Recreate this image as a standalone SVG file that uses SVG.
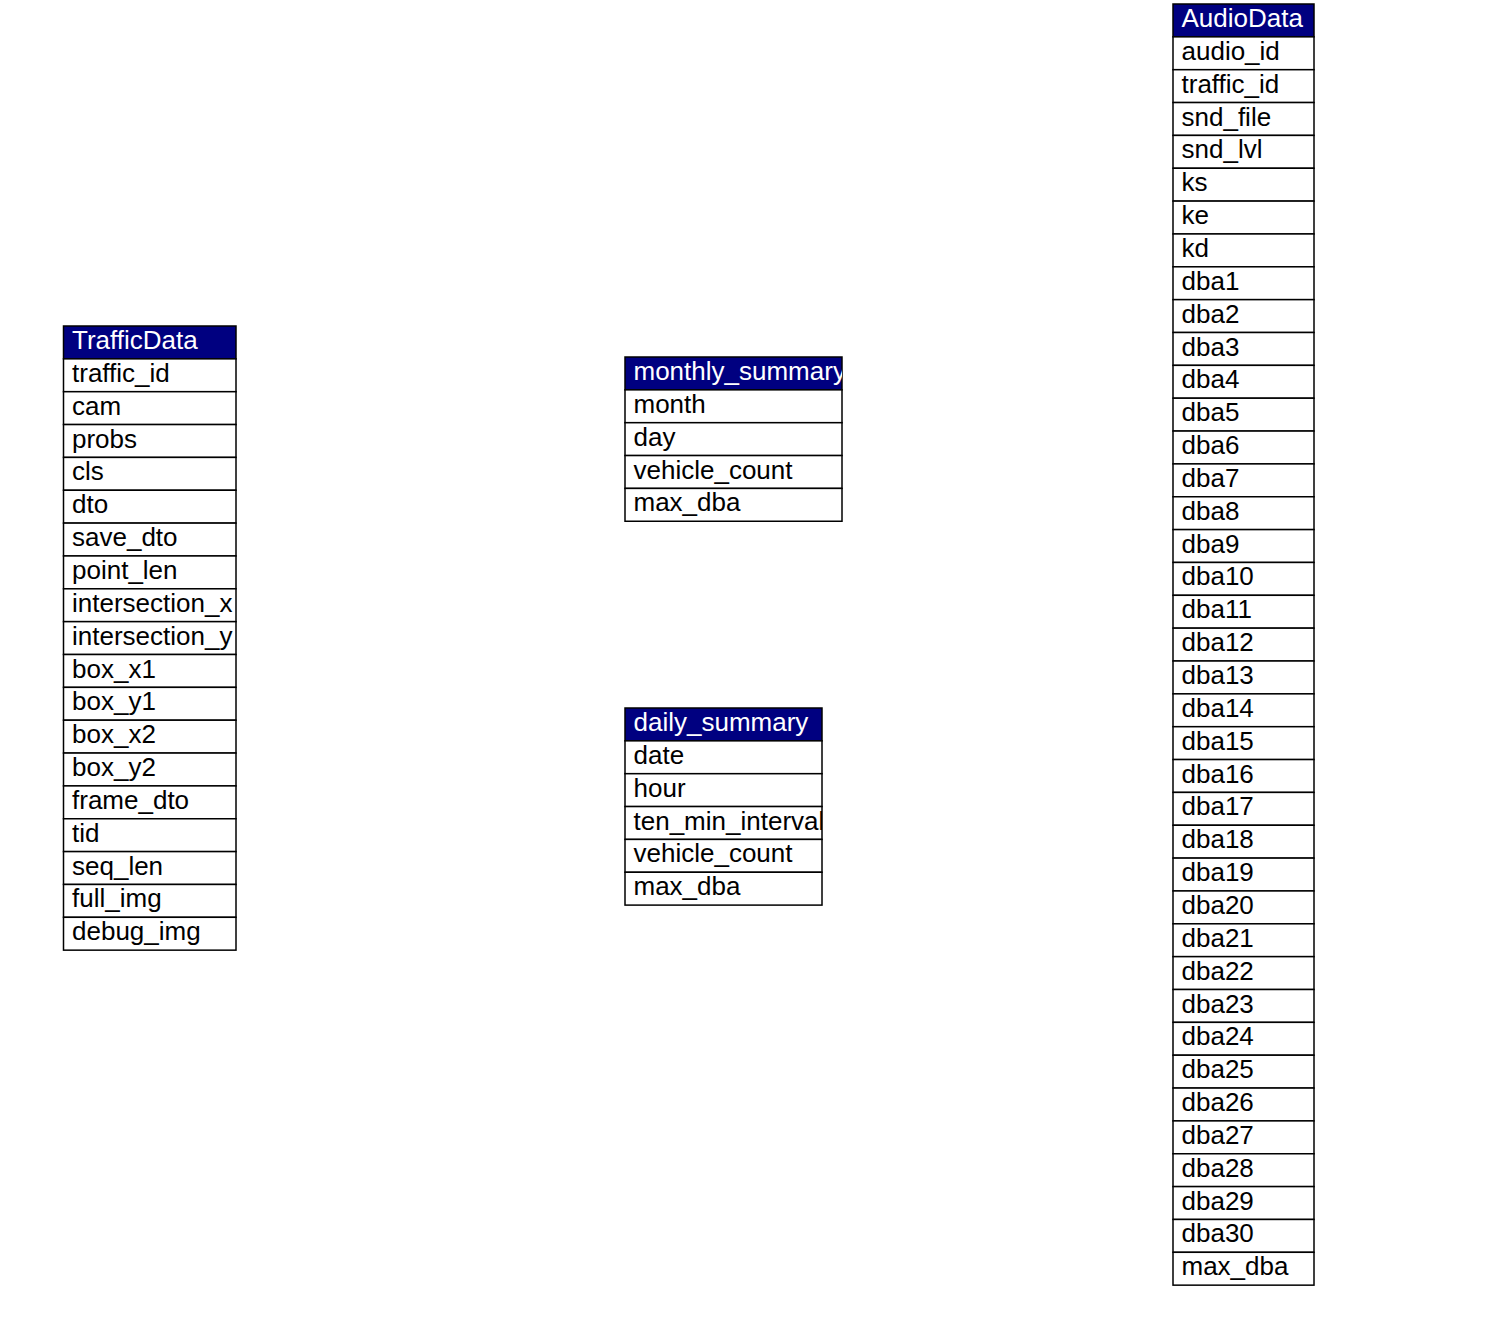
<svg xmlns="http://www.w3.org/2000/svg" width="1498" height="1332" viewBox="0 0 1498 1332">
<style>
.cell{fill:#fff;stroke:#000;stroke-width:1.5}
.head{fill:#000080;stroke:#000;stroke-width:1.5}
text{font-family:"Liberation Sans",Arial,sans-serif;font-size:26px;fill:#000}
.ht{fill:#fff}
</style>
<defs>
<clipPath id="cT"><rect x="0" y="0" width="172.5" height="624.15"/></clipPath>
<clipPath id="cM"><rect x="0" y="0" width="217" height="164.25"/></clipPath>
<clipPath id="cD"><rect x="0" y="0" width="197" height="197.1"/></clipPath>
<clipPath id="cA"><rect x="0" y="0" width="141" height="1281.15"/></clipPath>
</defs>
<rect width="1498" height="1332" fill="#fff"/>
<g id="connectors"></g>

<g id="TrafficData" transform="translate(63.5,326)">
<rect class="head" x="0" y="0" width="172.5" height="32.85"/>
<rect class="cell" x="0" y="32.85" width="172.5" height="32.85"/>
<rect class="cell" x="0" y="65.7" width="172.5" height="32.85"/>
<rect class="cell" x="0" y="98.55" width="172.5" height="32.85"/>
<rect class="cell" x="0" y="131.4" width="172.5" height="32.85"/>
<rect class="cell" x="0" y="164.25" width="172.5" height="32.85"/>
<rect class="cell" x="0" y="197.1" width="172.5" height="32.85"/>
<rect class="cell" x="0" y="229.95" width="172.5" height="32.85"/>
<rect class="cell" x="0" y="262.8" width="172.5" height="32.85"/>
<rect class="cell" x="0" y="295.65" width="172.5" height="32.85"/>
<rect class="cell" x="0" y="328.5" width="172.5" height="32.85"/>
<rect class="cell" x="0" y="361.35" width="172.5" height="32.85"/>
<rect class="cell" x="0" y="394.2" width="172.5" height="32.85"/>
<rect class="cell" x="0" y="427.05" width="172.5" height="32.85"/>
<rect class="cell" x="0" y="459.9" width="172.5" height="32.85"/>
<rect class="cell" x="0" y="492.75" width="172.5" height="32.85"/>
<rect class="cell" x="0" y="525.6" width="172.5" height="32.85"/>
<rect class="cell" x="0" y="558.45" width="172.5" height="32.85"/>
<rect class="cell" x="0" y="591.3" width="172.5" height="32.85"/>
<g clip-path="url(#cT)">
<text class="ht" x="8.5" y="23">TrafficData</text>
<text x="8.5" y="55.85">traffic_id</text>
<text x="8.5" y="88.7">cam</text>
<text x="8.5" y="121.55">probs</text>
<text x="8.5" y="154.4">cls</text>
<text x="8.5" y="187.25">dto</text>
<text x="8.5" y="220.1">save_dto</text>
<text x="8.5" y="252.95">point_len</text>
<text x="8.5" y="285.8">intersection_x</text>
<text x="8.5" y="318.65">intersection_y</text>
<text x="8.5" y="351.5">box_x1</text>
<text x="8.5" y="384.35">box_y1</text>
<text x="8.5" y="417.2">box_x2</text>
<text x="8.5" y="450.05">box_y2</text>
<text x="8.5" y="482.9">frame_dto</text>
<text x="8.5" y="515.75">tid</text>
<text x="8.5" y="548.6">seq_len</text>
<text x="8.5" y="581.45">full_img</text>
<text x="8.5" y="614.3">debug_img</text>
</g>
</g>

<g id="monthly_summary" transform="translate(625,357)">
<rect class="head" x="0" y="0" width="217" height="32.85"/>
<rect class="cell" x="0" y="32.85" width="217" height="32.85"/>
<rect class="cell" x="0" y="65.7" width="217" height="32.85"/>
<rect class="cell" x="0" y="98.55" width="217" height="32.85"/>
<rect class="cell" x="0" y="131.4" width="217" height="32.85"/>
<g clip-path="url(#cM)">
<text class="ht" x="8.5" y="23">monthly_summary</text>
<text x="8.5" y="55.85">month</text>
<text x="8.5" y="88.7">day</text>
<text x="8.5" y="121.55">vehicle_count</text>
<text x="8.5" y="154.4">max_dba</text>
</g>
</g>

<g id="daily_summary" transform="translate(625,708)">
<rect class="head" x="0" y="0" width="197" height="32.85"/>
<rect class="cell" x="0" y="32.85" width="197" height="32.85"/>
<rect class="cell" x="0" y="65.7" width="197" height="32.85"/>
<rect class="cell" x="0" y="98.55" width="197" height="32.85"/>
<rect class="cell" x="0" y="131.4" width="197" height="32.85"/>
<rect class="cell" x="0" y="164.25" width="197" height="32.85"/>
<g clip-path="url(#cD)">
<text class="ht" x="8.5" y="23">daily_summary</text>
<text x="8.5" y="55.85">date</text>
<text x="8.5" y="88.7">hour</text>
<text x="8.5" y="121.55">ten_min_interval</text>
<text x="8.5" y="154.4">vehicle_count</text>
<text x="8.5" y="187.25">max_dba</text>
</g>
</g>

<g id="AudioData" transform="translate(1173,4)">
<rect class="head" x="0" y="0" width="141" height="32.85"/>
<rect class="cell" x="0" y="32.85" width="141" height="32.85"/>
<rect class="cell" x="0" y="65.7" width="141" height="32.85"/>
<rect class="cell" x="0" y="98.55" width="141" height="32.85"/>
<rect class="cell" x="0" y="131.4" width="141" height="32.85"/>
<rect class="cell" x="0" y="164.25" width="141" height="32.85"/>
<rect class="cell" x="0" y="197.1" width="141" height="32.85"/>
<rect class="cell" x="0" y="229.95" width="141" height="32.85"/>
<rect class="cell" x="0" y="262.8" width="141" height="32.85"/>
<rect class="cell" x="0" y="295.65" width="141" height="32.85"/>
<rect class="cell" x="0" y="328.5" width="141" height="32.85"/>
<rect class="cell" x="0" y="361.35" width="141" height="32.85"/>
<rect class="cell" x="0" y="394.2" width="141" height="32.85"/>
<rect class="cell" x="0" y="427.05" width="141" height="32.85"/>
<rect class="cell" x="0" y="459.9" width="141" height="32.85"/>
<rect class="cell" x="0" y="492.75" width="141" height="32.85"/>
<rect class="cell" x="0" y="525.6" width="141" height="32.85"/>
<rect class="cell" x="0" y="558.45" width="141" height="32.85"/>
<rect class="cell" x="0" y="591.3" width="141" height="32.85"/>
<rect class="cell" x="0" y="624.15" width="141" height="32.85"/>
<rect class="cell" x="0" y="657" width="141" height="32.85"/>
<rect class="cell" x="0" y="689.85" width="141" height="32.85"/>
<rect class="cell" x="0" y="722.7" width="141" height="32.85"/>
<rect class="cell" x="0" y="755.55" width="141" height="32.85"/>
<rect class="cell" x="0" y="788.4" width="141" height="32.85"/>
<rect class="cell" x="0" y="821.25" width="141" height="32.85"/>
<rect class="cell" x="0" y="854.1" width="141" height="32.85"/>
<rect class="cell" x="0" y="886.95" width="141" height="32.85"/>
<rect class="cell" x="0" y="919.8" width="141" height="32.85"/>
<rect class="cell" x="0" y="952.65" width="141" height="32.85"/>
<rect class="cell" x="0" y="985.5" width="141" height="32.85"/>
<rect class="cell" x="0" y="1018.35" width="141" height="32.85"/>
<rect class="cell" x="0" y="1051.2" width="141" height="32.85"/>
<rect class="cell" x="0" y="1084.05" width="141" height="32.85"/>
<rect class="cell" x="0" y="1116.9" width="141" height="32.85"/>
<rect class="cell" x="0" y="1149.75" width="141" height="32.85"/>
<rect class="cell" x="0" y="1182.6" width="141" height="32.85"/>
<rect class="cell" x="0" y="1215.45" width="141" height="32.85"/>
<rect class="cell" x="0" y="1248.3" width="141" height="32.85"/>
<g clip-path="url(#cA)">
<text class="ht" x="8.5" y="23">AudioData</text>
<text x="8.5" y="55.85">audio_id</text>
<text x="8.5" y="88.7">traffic_id</text>
<text x="8.5" y="121.55">snd_file</text>
<text x="8.5" y="154.4">snd_lvl</text>
<text x="8.5" y="187.25">ks</text>
<text x="8.5" y="220.1">ke</text>
<text x="8.5" y="252.95">kd</text>
<text x="8.5" y="285.8">dba1</text>
<text x="8.5" y="318.65">dba2</text>
<text x="8.5" y="351.5">dba3</text>
<text x="8.5" y="384.35">dba4</text>
<text x="8.5" y="417.2">dba5</text>
<text x="8.5" y="450.05">dba6</text>
<text x="8.5" y="482.9">dba7</text>
<text x="8.5" y="515.75">dba8</text>
<text x="8.5" y="548.6">dba9</text>
<text x="8.5" y="581.45">dba10</text>
<text x="8.5" y="614.3">dba11</text>
<text x="8.5" y="647.15">dba12</text>
<text x="8.5" y="680">dba13</text>
<text x="8.5" y="712.85">dba14</text>
<text x="8.5" y="745.7">dba15</text>
<text x="8.5" y="778.55">dba16</text>
<text x="8.5" y="811.4">dba17</text>
<text x="8.5" y="844.25">dba18</text>
<text x="8.5" y="877.1">dba19</text>
<text x="8.5" y="909.95">dba20</text>
<text x="8.5" y="942.8">dba21</text>
<text x="8.5" y="975.65">dba22</text>
<text x="8.5" y="1008.5">dba23</text>
<text x="8.5" y="1041.35">dba24</text>
<text x="8.5" y="1074.2">dba25</text>
<text x="8.5" y="1107.05">dba26</text>
<text x="8.5" y="1139.9">dba27</text>
<text x="8.5" y="1172.75">dba28</text>
<text x="8.5" y="1205.6">dba29</text>
<text x="8.5" y="1238.45">dba30</text>
<text x="8.5" y="1271.3">max_dba</text>
</g>
</g>
</svg>
